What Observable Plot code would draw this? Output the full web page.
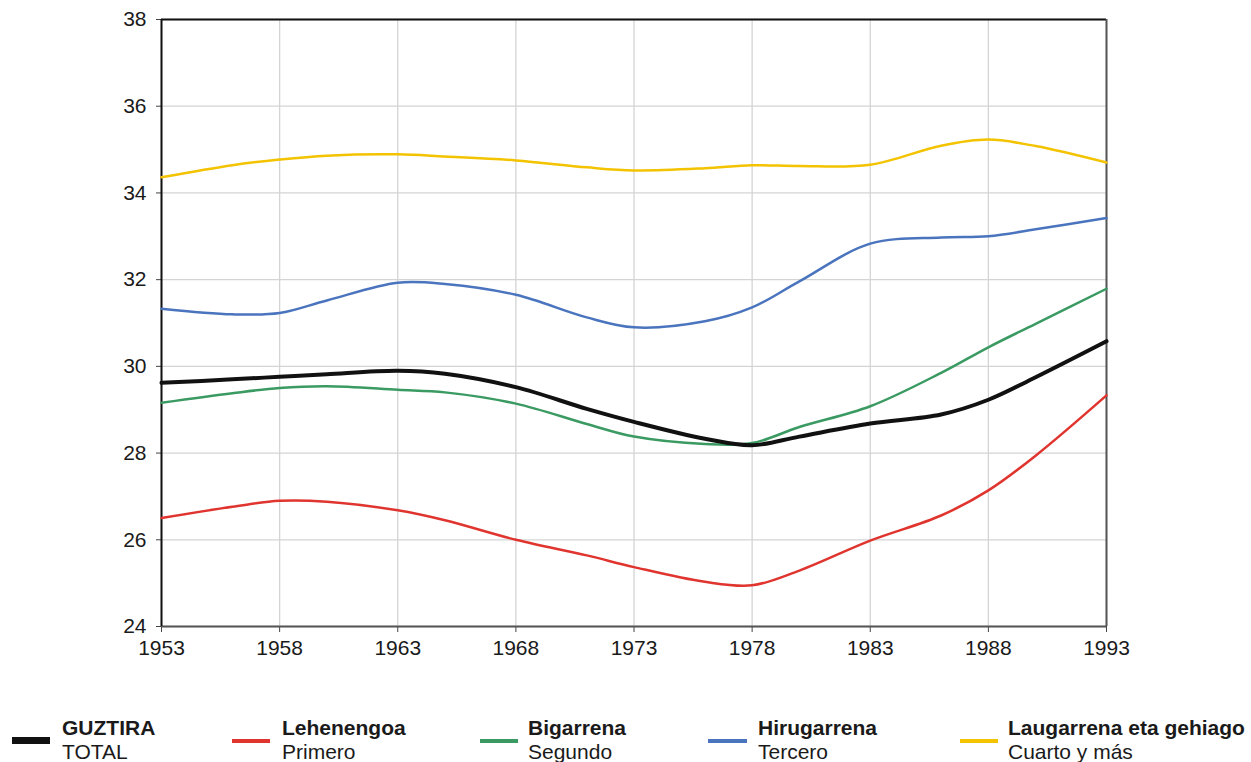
<!DOCTYPE html>
<html>
<head>
<meta charset="utf-8">
<script src="https://cdn.jsdelivr.net/npm/d3@7"></script>
<script src="https://cdn.jsdelivr.net/npm/@observablehq/plot@0.6"></script>
<style>
  body { margin: 0; background: #fff; font-family: "Liberation Sans", Arial, sans-serif; }
  #wrap { position: relative; width: 1251px; height: 762px; overflow: hidden; }
  .leg { position: absolute; top: 716px; font-size: 21px; color: #1a1a1a; line-height: 24px; white-space: nowrap; }
  .leg b { display: block; font-weight: bold; }
  .sw { position: absolute; }
</style>
</head>
<body>
<div id="wrap"></div>
<script>
const years = [1953, 1956, 1958, 1960, 1963, 1965, 1968, 1971, 1973, 1976, 1978, 1980, 1983, 1986, 1988, 1990, 1993];
const total     = [29.62, 29.70, 29.76, 29.82, 29.90, 29.83, 29.52, 29.02, 28.72, 28.33, 28.18, 28.38, 28.68, 28.89, 29.23, 29.75, 30.58];
const primero   = [26.50, 26.76, 26.90, 26.88, 26.68, 26.45, 26.00, 25.64, 25.37, 25.03, 24.95, 25.29, 25.98, 26.56, 27.14, 27.94, 29.33];
const segundo   = [29.16, 29.38, 29.50, 29.54, 29.46, 29.40, 29.14, 28.67, 28.38, 28.21, 28.23, 28.60, 29.08, 29.85, 30.44, 30.98, 31.79];
const tercero   = [31.33, 31.20, 31.23, 31.52, 31.93, 31.90, 31.65, 31.13, 30.90, 31.04, 31.36, 31.96, 32.83, 32.97, 33.00, 33.16, 33.42];
const cuarto    = [34.36, 34.64, 34.77, 34.86, 34.89, 34.84, 34.75, 34.59, 34.52, 34.57, 34.64, 34.62, 34.65, 35.09, 35.23, 35.08, 34.70];

const seriesNames = ["GUZTIRA", "Lehenengoa", "Bigarrena", "Hirugarrena", "Laugarrena eta gehiago"];
const seriesSub = ["TOTAL", "Primero", "Segundo", "Tercero", "Cuarto y más"];
const seriesColors = ["#111111", "#e0352f", "#3a9a62", "#4a74bd", "#f3c300"];
const seriesValues = [total, primero, segundo, tercero, cuarto];
const xTicks = [1953, 1958, 1963, 1968, 1973, 1978, 1983, 1988, 1993];
const yTicks = [24, 26, 28, 30, 32, 34, 36, 38];

const rows = [];
seriesNames.forEach((name, i) => {
  years.forEach((yr, j) => rows.push({series: name, year: yr, value: seriesValues[i][j], order: i}));
});
const drawOrder = [4, 3, 2, 1, 0];

const marks = [
  Plot.gridX(xTicks, {stroke: "#d4d4d4", strokeOpacity: 1, strokeWidth: 1.3}),
  Plot.gridY(yTicks, {stroke: "#d4d4d4", strokeOpacity: 1, strokeWidth: 1.3}),
  Plot.axisX({ticks: xTicks, tickFormat: d => String(d), tickSize: 6, tickPadding: 8, stroke: "#444", fontSize: 21}),
  Plot.axisY({ticks: yTicks, tickSize: 5, tickPadding: 10, stroke: "#444", fontSize: 21}),
  Plot.ruleY([38], {stroke: "#111", strokeWidth: 2}),
  Plot.ruleY([24], {stroke: "#555", strokeWidth: 2}),
  Plot.ruleX([1993], {stroke: "#555", strokeWidth: 2}),
  Plot.ruleX([1953], {stroke: "#111", strokeWidth: 2})
];
drawOrder.forEach(i => {
  marks.push(Plot.line(rows.filter(r => r.order === i), {
    x: "year", y: "value",
    stroke: seriesColors[i],
    strokeWidth: i === 0 ? 4 : 2.5,
    curve: "catmull-rom"
  }));
});

const chart = Plot.plot({
  width: 1251,
  height: 670,
  marginLeft: 161,
  marginRight: 145,
  marginTop: 19,
  marginBottom: 44,
  style: {fontFamily: "Liberation Sans, Arial, sans-serif", fontSize: "21px", color: "#1a1a1a", background: "#fff"},
  x: {domain: [1953, 1993], label: null},
  y: {domain: [24, 38], label: null},
  marks
});
const wrap = document.getElementById("wrap");
wrap.appendChild(chart);

const swatchX = [12, 232, 480, 708, 960];
const swatchW = [38, 38, 38, 39, 38];
const textX = [62, 282, 528, 758, 1008];
seriesNames.forEach((name, i) => {
  const sw = document.createElement("div");
  sw.className = "sw";
  sw.style.left = swatchX[i] + "px";
  sw.style.width = swatchW[i] + "px";
  sw.style.height = (i === 0 ? 7 : 4) + "px";
  sw.style.top = (i === 0 ? 737 : 739) + "px";
  sw.style.background = seriesColors[i];
  wrap.appendChild(sw);
  const t = document.createElement("div");
  t.className = "leg";
  t.style.left = textX[i] + "px";
  t.innerHTML = "<b></b><span></span>";
  t.querySelector("b").textContent = name;
  t.querySelector("span").textContent = seriesSub[i];
  wrap.appendChild(t);
});
</script>
</body>
</html>
